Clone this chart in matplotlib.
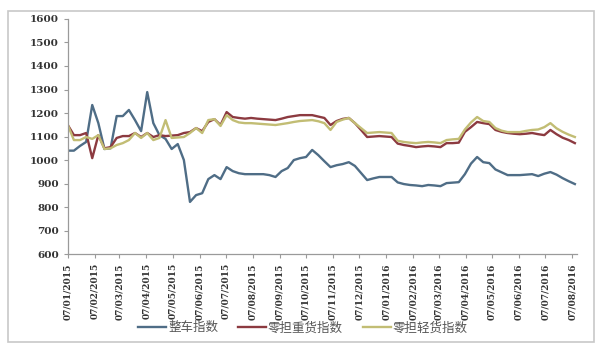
import matplotlib.pyplot as plt
import matplotlib.dates as mdates
from matplotlib.patches import Rectangle
import pandas as pd

plt.rcParams['font.family'] = ['Noto Sans CJK SC', 'DejaVu Sans']

# weekly index values, first point 2015-01-07
start_date = '2015-01-07'
month_ticks = pd.date_range('2015-01-01', '2016-08-01', freq='MS') + pd.Timedelta(days=6)
names = ['整车指数', '零担重货指数', '零担轻货指数']

zhengche = [1040, 1040, 1060, 1077, 1234, 1157, 1047, 1050, 1187, 1187,
            1213, 1170, 1123, 1289, 1157, 1106, 1090, 1047, 1068, 1000,
            822, 851, 859, 919, 936, 919, 970, 953, 944, 940,
            940, 940, 940, 936, 928, 953, 966, 1000, 1008, 1013,
            1043, 1021, 995, 970, 978, 983, 991, 975, 945, 915,
            922, 928, 928, 928, 905, 898, 894, 892, 889, 894,
            892, 889, 902, 904, 906, 940, 985, 1013, 991, 987,
            960, 948, 936, 936, 936, 938, 940, 932, 942, 949,
            938, 923, 910, 898]
zhonghuo = [1149, 1106, 1106, 1115, 1008, 1106, 1050, 1055, 1094, 1102,
            1102, 1115, 1098, 1115, 1098, 1106, 1102, 1104, 1106, 1115,
            1119, 1136, 1123, 1162, 1174, 1149, 1204, 1183, 1179, 1176,
            1179, 1176, 1174, 1172, 1170, 1176, 1183, 1187, 1191, 1191,
            1191, 1185, 1179, 1149, 1166, 1175, 1179, 1157, 1128, 1098,
            1100, 1102, 1100, 1098, 1070, 1064, 1060, 1055, 1058, 1060,
            1058, 1055, 1072, 1072, 1074, 1120, 1140, 1162, 1157, 1153,
            1128, 1120, 1115, 1112, 1110, 1112, 1115, 1110, 1106, 1128,
            1110, 1095, 1085, 1072]
qinghuo = [1149, 1085, 1085, 1098, 1090, 1106, 1047, 1050, 1064, 1072,
           1085, 1115, 1094, 1115, 1085, 1094, 1170, 1094, 1096, 1098,
           1115, 1136, 1115, 1170, 1174, 1145, 1191, 1170, 1160, 1157,
           1157, 1155, 1153, 1151, 1149, 1153, 1157, 1162, 1166, 1168,
           1170, 1165, 1157, 1128, 1162, 1172, 1179, 1157, 1136, 1115,
           1117, 1119, 1117, 1115, 1082, 1077, 1074, 1072, 1075, 1077,
           1075, 1072, 1085, 1088, 1090, 1130, 1160, 1183, 1166, 1162,
           1136, 1125, 1119, 1119, 1119, 1124, 1128, 1130, 1140, 1157,
           1135, 1120, 1108, 1098]

dates = pd.date_range(start_date, periods=len(zhengche), freq='7D')
colors = ['#4f6d86', '#8c3a40', '#c2bd74']

fig = plt.figure(figsize=(6, 3.51), dpi=100)
fig.patches.append(Rectangle((0.013, 0.025), 0.977, 0.945, transform=fig.transFigure,
                             fill=False, edgecolor='#c8c8c8', linewidth=1.2))
ax = fig.add_axes([0.113, 0.276, 0.848, 0.67])

for vals, c, n in zip([zhengche, zhonghuo, qinghuo], colors, names):
    ax.plot(dates, vals, color=c, linewidth=1.7, label=n)

ax.set_ylim(600, 1600)
ax.set_yticks(range(600, 1601, 100))
ax.set_xlim(pd.Timestamp('2015-01-07'), pd.Timestamp('2016-08-12'))
ax.set_xticks(month_ticks)
ax.xaxis.set_major_formatter(mdates.DateFormatter('%d/%m/%Y'))

for s in ['top', 'right']:
    ax.spines[s].set_visible(False)
for s in ['left', 'bottom']:
    ax.spines[s].set_color('#9a9a9a')
    ax.spines[s].set_linewidth(0.9)
ax.tick_params(axis='both', length=3, color='#9a9a9a', width=0.8)
for lab in ax.get_yticklabels():
    lab.set_fontfamily('DejaVu Serif')
    lab.set_fontweight('bold')
    lab.set_fontsize(7.5)
    lab.set_color('#333333')
for lab in ax.get_xticklabels():
    lab.set_fontfamily('DejaVu Serif')
    lab.set_fontweight('bold')
    lab.set_fontsize(6.5)
    lab.set_rotation(90)
    lab.set_color('#333333')

leg = fig.legend(loc='center', bbox_to_anchor=(0.505, 0.066), ncol=3, frameon=False,
                 fontsize=9, handlelength=2.2, handletextpad=0.2, columnspacing=1.6)
for t in leg.get_texts():
    t.set_color('#555555')

fig.savefig('out.png', dpi=100, facecolor='white')
